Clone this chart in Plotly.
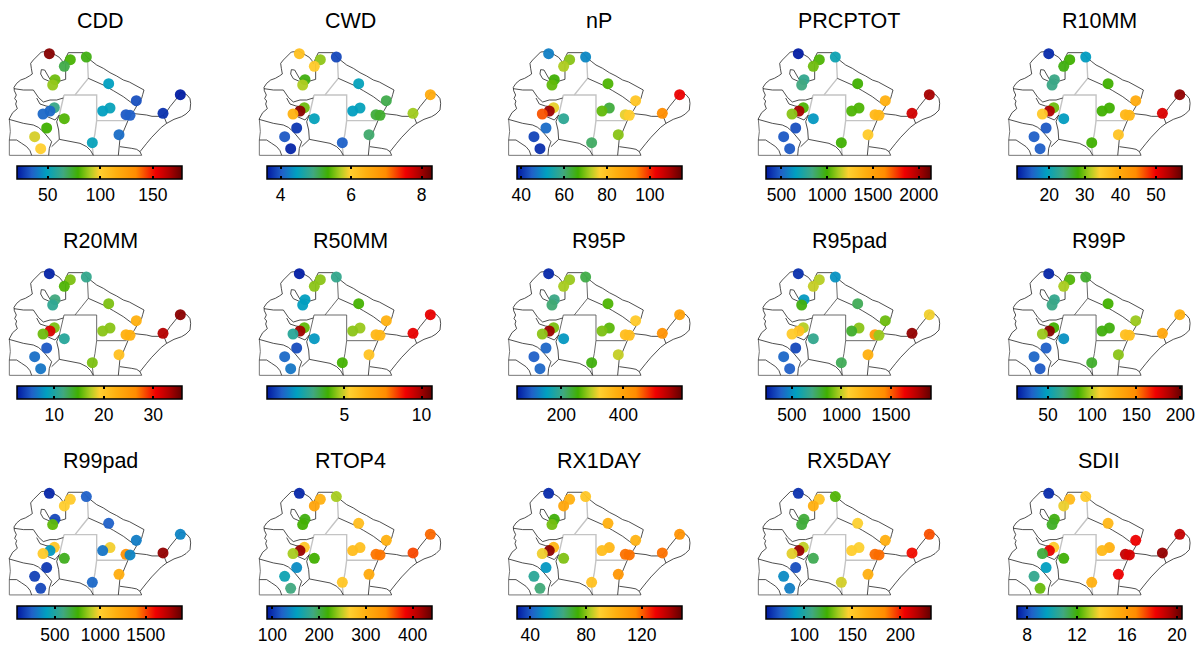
import plotly.graph_objects as go

W, H = 1203, 648

NAMES = ["CDD", "CWD", "nP", "PRCPTOT", "R10MM",
         "R20MM", "R50MM", "R95P", "R95pad", "R99P",
         "R99pad", "RTOP4", "RX1DAY", "RX5DAY", "SDII"]

# station positions (map units)
STATION_X = [148, 211, 193, 259, 165, 158, 326, 409, 541, 489, 330, 308, 378, 390, 163, 150, 129, 193, 140, 104, 122, 277, 357]
STATION_Y = [161, 179, 199, 171, 239, 255, 251, 302, 284, 340, 324, 333, 344, 346, 323, 333, 342, 356, 384, 410, 446, 428, 404]

CDD = [172, 80, 71, 77, 84, 88, 49, 32, 22, 26, 51, 49, 34, 35, 63, 37, 37, 81, 79, 95, 100, 51, 38]
CWD = [6.2, 5.6, 6.05, 3.9, 5.3, 5.7, 4.5, 5.1, 6.5, 5.65, 4.5, 4.45, 5.15, 5.2, 5.5, 8.1, 6.4, 4.5, 3.8, 4.0, 3.7, 4.05, 5.0]
NP = [48, 70, 72, 49, 66, 68, 67, 79, 103, 93, 63, 68, 75, 77, 75, 110, 97, 57, 46, 42, 40, 61, 70]
PRCPTOT = [350, 1020, 1060, 700, 800, 840, 1000, 1420, 2010, 1920, 1020, 1020, 1380, 1380, 1020, 2010, 1090, 640, 460, 480, 480, 1000, 1270]
R10MM = [12, 28, 27.5, 19, 23.4, 23.4, 28, 39.5, 55, 51, 28, 28, 37.8, 37.8, 29.5, 53.5, 35, 19, 14.6, 15, 15, 28, 36]
R20MM = [3, 16.2, 15.2, 11.2, 11.9, 10.9, 16.2, 22.5, 34.5, 33, 16.5, 16.5, 22.5, 22.5, 16.2, 31.5, 15.9, 10.5, 5.2, 6.2, 6.5, 16.2, 20.9]
R50MM = [0.1, 4.5, 4.5, 2.8, 1.9, 1.9, 4, 6.4, 9.1, 9.1, 4.6, 4.5, 6.2, 6.2, 4.2, 10, 2.6, 1.8, 0.7, 1.1, 1.3, 4, 5.8]
R95P = [67, 285, 290, 226, 200, 210, 258, 333, 402, 428, 263, 274, 354, 354, 274, 556, 280, 146, 109, 104, 109, 248, 300]
R95PAD = [290, 990, 1007, 508, 524, 840, 757, 907, 1057, 1824, 940, 807, 1357, 957, 990, 1157, 1107, 674, 341, 408, 391, 757, 1241]
R99P = [18, 86, 97, 78, 63, 65, 84, 95, 127, 132, 82, 82, 118, 118, 84, 194, 95, 44, 31, 33, 30, 78, 93]
R99PAD = [120, 1030, 1010, 250, 195, 795, 250, 320, 340, 1813, 980, 300, 1360, 340, 1050, 395, 1030, 720, 160, 175, 195, 270, 1195]
RTOP4 = [96, 300, 315, 244, 216, 220, 287, 300, 354, 364, 283, 287, 350, 350, 276, 421, 244, 220, 142, 160, 188, 276, 308]
RX1DAY = [33, 101, 105, 93, 73, 78, 101, 100, 113, 118, 99, 96, 118, 118, 99, 143, 88, 79, 50, 59, 64, 95, 111]
RX5DAY = [66, 153, 164, 126, 117, 117, 146, 164, 193, 203, 146, 148, 189, 189, 139, 222, 143, 114, 72, 86, 83, 141, 164]
SDII = [7.5, 14.7, 13.6, 14, 11.9, 11.7, 14.8, 18.3, 19, 19.7, 15.1, 14.7, 19, 18.7, 14, 18.4, 11.5, 12, 9.5, 10.6, 12.4, 15.1, 18.3]

VALUES = [CDD, CWD, NP, PRCPTOT, R10MM, R20MM, R50MM, R95P, R95PAD, R99P, R99PAD, RTOP4, RX1DAY, RX5DAY, SDII]

SCALE_MIN = [21, 3.62, 37.8, 336, 10.9, 2.5, 0, 56, 241, 14.5, 85, 89, 30.2, 60.4, 7.17]
SCALE_MAX = [178, 8.30, 114.8, 2138, 57.2, 35.9, 10.7, 588, 1907, 201.5, 1904, 442, 148.4, 232.3, 20.37]
TICKS = [[50, 100, 150], [4, 6, 8], [40, 60, 80, 100], [500, 1000, 1500, 2000], [20, 30, 40, 50],
         [10, 20, 30], [5, 10], [200, 400], [500, 1000, 1500], [50, 100, 150, 200],
         [500, 1000, 1500], [100, 200, 300, 400], [40, 80, 120], [100, 150, 200], [8, 12, 16, 20]]

COLORSCALE = [[0.0, "#0018a0"], [0.09, "#2060c8"], [0.18, "#00a0c0"], [0.28, "#40a880"],
              [0.37, "#40b000"], [0.44, "#a8cc20"], [0.5, "#ffd030"], [0.6, "#ffb010"],
              [0.72, "#ff8c00"], [0.84, "#f00000"], [0.92, "#b00000"], [1.0, "#600000"]]
CLEAR = [[0, "rgba(0,0,0,0)"], [1, "rgba(0,0,0,0)"]]

# map outline (map units)
BLACK_LINES = [
    [(27, 358), (33, 345), (38, 338), (52, 326), (47, 312), (50, 303), (44, 296), (49, 285), (43, 272), (42, 262), (50, 250),
     (62, 240), (76, 235), (88, 228), (97, 222), (94, 205), (92, 190), (100, 180), (108, 172), (116, 165), (124, 156), (135, 155),
     (145, 152), (158, 160), (165, 165), (178, 172), (186, 182), (190, 192), (198, 172), (205, 158),
     (250, 158), (262, 172), (276, 184), (290, 195), (310, 205), (330, 218), (350, 228), (370, 240), (388, 246), (405, 255),
     (420, 262), (432, 270), (428, 284), (425, 295), (416, 308), (410, 320), (402, 332), (395, 340),
     (418, 342), (440, 345), (456, 349), (470, 350), (482, 349), (490, 345), (500, 335), (510, 320), (520, 308), (530, 295), (536, 288), (540, 278),
     (552, 279), (562, 286), (570, 296), (572, 310), (570, 330), (558, 342), (545, 350),
     (522, 358), (500, 370), (484, 382), (470, 395), (455, 412), (440, 430), (428, 444), (420, 455), (425, 466)],
    [(197, 190), (197, 215), (197, 238), (180, 243), (165, 237), (150, 238), (140, 222), (134, 210), (124, 209), (122, 222), (130, 236), (148, 244)],
    [(42, 266), (70, 270), (100, 270), (108, 282), (115, 292), (130, 306), (150, 300), (170, 300), (190, 294)],
    [(110, 294), (120, 312), (138, 318), (150, 320), (142, 350), (165, 360), (178, 345)],
    [(27, 358), (50, 365), (70, 370), (100, 375), (115, 382), (130, 395), (142, 408), (155, 425), (148, 445), (146, 466)],
    [(178, 345), (170, 365), (176, 390), (178, 418), (155, 440)],
    [(178, 418), (198, 422), (215, 425), (240, 430), (260, 440), (272, 452), (280, 466)],
    [(355, 466), (358, 440), (360, 415), (370, 395), (380, 370), (388, 352), (395, 340)],
    [(360, 440), (378, 442), (395, 445), (410, 448), (420, 455)],
    [(28, 420), (50, 420), (65, 430), (80, 440), (90, 452), (95, 466)],
    [(265, 235), (288, 246), (310, 255), (340, 272), (370, 290), (390, 305), (408, 318)],
    [(490, 345), (497, 360), (500, 370)],
]
GRAY_LINES = [
    [(262, 172), (265, 235), (245, 260), (225, 285)],
    [(192, 285), (290, 285), (290, 362), (380, 362)],
    [(192, 285), (178, 345)],
    [(290, 362), (285, 400), (277, 440), (280, 466)],
]
BASE_LINES = [
    [(28, 358), (31, 395), (28, 420), (28, 466), (425, 466)],
]

COL_X = [0, 250, 499.3, 749, 999.4]
ROW_Y = [0, 220, 439.6]
BAR_X0, BAR_W, BAR_TOP, BAR_H = 17.3, 165, 166, 13
PANEL_W, PANEL_H = 200, 190
TICK_LEN = 3


def polyline(lines, idx):
    out = []
    for ln in lines:
        out += [p[idx] for p in ln] + [None]
    return out


def bar(i, ox, oy, thick, labels, scale_name):
    return dict(
        orientation="h", lenmode="pixels", len=BAR_W, thicknessmode="pixels", thickness=thick,
        x=(ox + BAR_X0) / W, xanchor="left", y=1 - (oy + BAR_TOP) / H, yanchor="top",
        xref="paper", yref="paper", xpad=0, ypad=0,
        outlinecolor="black" if labels else "rgba(0,0,0,0)", outlinewidth=1.5 if labels else 0, borderwidth=0,
        tickmode="array", tickvals=TICKS[i], ticktext=[str(t) if labels else "" for t in TICKS[i]],
        ticks="inside", ticklen=TICK_LEN, tickwidth=2, tickcolor="black",
        tickfont=dict(family="Liberation Sans", size=17.5, color="black"),
    )


fig = go.Figure()
layout = {}
annotations = []

for i, name in enumerate(NAMES):
    r, c = i // 5, i % 5
    ox, oy = COL_X[c], ROW_Y[r]
    ax = "" if i == 0 else str(i + 1)
    xref, yref = f"x{ax}", f"y{ax}"
    layout[f"xaxis{ax}"] = dict(domain=[ox / W, (ox + PANEL_W) / W], range=[0, 600], visible=False, fixedrange=True, anchor=yref)
    layout[f"yaxis{ax}"] = dict(domain=[1 - (oy + PANEL_H) / H, 1 - oy / H], range=[570, 0], visible=False, fixedrange=True, anchor=xref)

    gray = ("#c4c4c4", 1.4) if r != 1 else ("#5a5a5a", 0.9)
    for lines, col, w in [(GRAY_LINES, gray[0], gray[1]), (BASE_LINES, "#777777", 1.0), (BLACK_LINES, "#222222", 0.8)]:
        fig.add_trace(go.Scatter(x=polyline(lines, 0), y=polyline(lines, 1), xaxis=xref, yaxis=yref, mode="lines",
                                 line=dict(color=col, width=w), hoverinfo="skip", showlegend=False))
    fig.add_trace(go.Scatter(
        x=STATION_X, y=STATION_Y, xaxis=xref, yaxis=yref, mode="markers", name=name, showlegend=False,
        marker=dict(size=11, opacity=0.95, color=VALUES[i], cmin=SCALE_MIN[i], cmax=SCALE_MAX[i],
                    colorscale=COLORSCALE, line=dict(width=0), colorbar=bar(i, ox, oy, BAR_H, True, "main"))))
    # transparent companion bar: only its ticks show, along the upper edge of the real bar
    fig.add_trace(go.Scatter(
        x=[None], y=[None], xaxis=xref, yaxis=yref, mode="markers", showlegend=False, hoverinfo="skip",
        marker=dict(size=1, color=[SCALE_MIN[i]], cmin=SCALE_MIN[i], cmax=SCALE_MAX[i],
                    colorscale=CLEAR, colorbar=bar(i, ox, oy, TICK_LEN, False, "top"))))
    annotations.append(dict(text=name, xref="paper", yref="paper", x=(ox + 100) / W, y=1 - (oy + 21.5) / H,
                            xanchor="center", yanchor="middle", showarrow=False,
                            font=dict(family="Liberation Sans", size=21.5, color="black")))

fig.update_layout(width=W, height=H, margin=dict(l=0, r=0, t=0, b=0, autoexpand=False),
                  paper_bgcolor="white", plot_bgcolor="white", annotations=annotations, **layout)
fig.write_html("out.html", config={"displayModeBar": False},
               post_script="document.body.style.margin='0';")
